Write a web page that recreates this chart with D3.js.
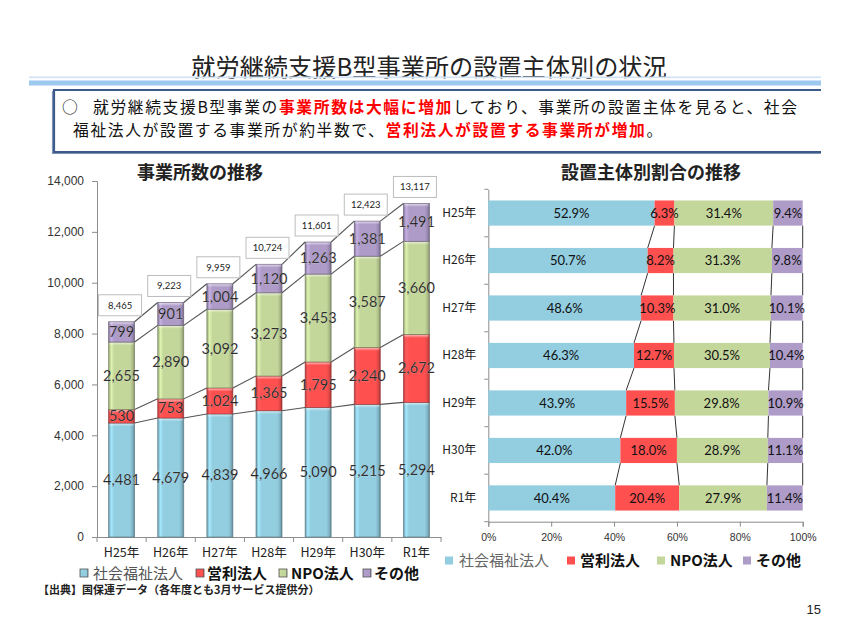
<!DOCTYPE html>
<html><head><meta charset="utf-8">
<script src="https://cdn.jsdelivr.net/npm/d3@7/dist/d3.min.js"></script>
<style>
html,body{margin:0;padding:0;background:#fff;}
svg{display:block;}
</style></head>
<body>
<svg id="c" width="855" height="629"></svg>
<script>
// ---------- DATA ----------
const categories = ["H25年","H26年","H27年","H28年","H29年","H30年","R1年"];
const seriesNames = ["社会福祉法人","営利法人","NPO法人","その他"];
const countSocial = [4481,4679,4839,4966,5090,5215,5294];
const countProfit = [530,753,1024,1365,1795,2240,2672];
const countNpo    = [2655,2890,3092,3273,3453,3587,3660];
const countOther  = [799,901,1004,1120,1263,1381,1491];
const countTotal  = [8465,9223,9959,10724,11601,12423,13117];
const pctSocial = [52.9,50.7,48.6,46.3,43.9,42.0,40.4];
const pctProfit = [6.3,8.2,10.3,12.7,15.5,18.0,20.4];
const pctNpo    = [31.4,31.3,31.0,30.5,29.8,28.9,27.9];
const pctOther  = [9.4,9.8,10.1,10.4,10.9,11.1,11.4];
const countTicks = [0,2000,4000,6000,8000,10000,12000,14000];
const pctTicks = [0,20,40,60,80,100];

// ---------- STYLE ----------
const colors = ["#92cde0","#ff5050","#c4d79b","#ae9bc8"];
const JP = "'Noto Sans CJK JP','Noto Sans',sans-serif";
const NUM = "Lato,'Noto Sans',sans-serif";
const AX = "'Liberation Sans',Arial,sans-serif";

const svg = d3.select("#c");
const defs = svg.append("defs");
colors.forEach((c,i)=>{
  const g = defs.append("linearGradient").attr("id","g"+i).attr("x1","0").attr("x2","1").attr("y1","0").attr("y2","0");
  const base = d3.color(c);
  g.append("stop").attr("offset","0%").attr("stop-color",base.darker(0.9));
  g.append("stop").attr("offset","10%").attr("stop-color",base.brighter(0.35));
  g.append("stop").attr("offset","22%").attr("stop-color",base);
  g.append("stop").attr("offset","82%").attr("stop-color",base);
  g.append("stop").attr("offset","92%").attr("stop-color",base.darker(0.35));
  g.append("stop").attr("offset","100%").attr("stop-color",base.darker(1.2));
  const v = defs.append("linearGradient").attr("id","v"+i).attr("x1","0").attr("x2","0").attr("y1","0").attr("y2","1");
  v.append("stop").attr("offset","0%").attr("stop-color","#fff").attr("stop-opacity",0.55);
  v.append("stop").attr("offset","100%").attr("stop-color","#fff").attr("stop-opacity",0);
});

// ---------- HEADER ----------
svg.append("text").attr("x",429).attr("y",75.5).attr("text-anchor","middle")
  .attr("font-family",JP).attr("font-size",24.2).attr("fill","#222")
  .text("就労継続支援B型事業所の設置主体別の状況");
svg.append("rect").attr("x",29).attr("y",76.5).attr("width",792).attr("height",1.6).attr("fill","#cfe2f6");
svg.append("rect").attr("x",29).attr("y",80.5).attr("width",792).attr("height",5).attr("fill","#9dc8ef");

// box
svg.append("path").attr("d","M821,90 H54 V152 H821").attr("fill","#fff")
  .attr("stroke","#3b5a8a").attr("stroke-width",2.2);
svg.append("path").attr("d","M52.5,91 V153.5 H821").attr("fill","none")
  .attr("stroke","#7f93b5").attr("stroke-width",1.2);

function runs(x0, yb, parts){
  let xx = x0;
  parts.forEach(p=>{
    const t = svg.append("text").attr("x",xx).attr("y",yb).attr("font-family",JP).attr("font-size",15.8)
      .attr("letter-spacing",1.6)
      .attr("fill",p.red?"#ff0000":"#111").attr("font-weight",p.red?"bold":"normal").text(p.t);
    xx += t.node().getComputedTextLength();
  });
}
svg.append("text").attr("x",62).attr("y",113).attr("font-family",JP).attr("font-size",15.8).attr("fill","#111").text("○");
runs(93,113,[{t:"就労継続支援B型事業の"},{t:"事業所数は大幅に増加",red:true},{t:"しており、事業所の設置主体を見ると、社会"}]);
runs(73,136,[{t:"福祉法人が設置する事業所が約半数で、"},{t:"営利法人が設置する事業所が増加",red:true},{t:"。"}]);

// ---------- LEFT CHART ----------
const L = {x0:97, x1:441, y0:181, y1:537};
const x = d3.scaleBand().domain(categories).range([L.x0,L.x1]).padding(0);
const y = d3.scaleLinear().domain([0,14000]).range([L.y1,L.y0]);
const bw = x.bandwidth()*0.53;

svg.append("text").attr("x",200).attr("y",178.5).attr("text-anchor","middle")
  .attr("font-family",JP).attr("font-size",18).attr("font-weight","bold").attr("fill","#222").text("事業所数の推移");

const yAx = svg.append("g").attr("transform",`translate(${L.x0},0)`)
  .call(d3.axisLeft(y).tickValues(countTicks).tickFormat(d3.format(",")).tickSize(5).tickPadding(8));
yAx.selectAll("path,line").attr("stroke","#8c8c8c");
yAx.selectAll("text").attr("font-family",AX).attr("font-size",12).attr("fill","#333");

const xAx = svg.append("g").attr("transform",`translate(0,${L.y1})`)
  .call(d3.axisBottom(x).tickSize(0).tickPadding(11));
xAx.select("path").attr("stroke","#8c8c8c");
xAx.selectAll("text").attr("font-family",JP).attr("font-size",12.5).attr("fill","#222");
svg.append("g").selectAll("line").data(categories.map(c=>x(c)).concat([x.range()[1]]))
  .join("line").attr("x1",d=>d).attr("x2",d=>d).attr("y1",L.y1).attr("y2",L.y1+5).attr("stroke","#8c8c8c");

const countSeries = [countSocial,countProfit,countNpo,countOther];
const countRows = categories.map((c,i)=>({cat:c, s0:countSocial[i], s1:countProfit[i], s2:countNpo[i], s3:countOther[i]}));
const stackC = d3.stack().keys(["s0","s1","s2","s3"])(countRows);

// series lines
const gLines = svg.append("g");
stackC.forEach(layer=>{
  for(let i=0;i<categories.length-1;i++){
    const cx0 = x(categories[i])+x.bandwidth()/2+bw/2;
    const cx1 = x(categories[i+1])+x.bandwidth()/2-bw/2;
    gLines.append("line").attr("x1",cx0).attr("y1",y(layer[i][1])).attr("x2",cx1).attr("y2",y(layer[i+1][1]))
      .attr("stroke","#555").attr("stroke-width",1.1);
  }
});

stackC.forEach((layer,k)=>{
  const g = svg.append("g");
  g.selectAll("rect.b").data(layer).join("rect")
    .attr("x",d=>x(d.data.cat)+x.bandwidth()/2-bw/2).attr("width",bw)
    .attr("y",d=>y(d[1])).attr("height",d=>y(d[0])-y(d[1]))
    .attr("fill",`url(#g${k})`).attr("stroke",d3.color(colors[k]).darker(1.6)).attr("stroke-width",0.8).attr("stroke-opacity",0.7);
  g.selectAll("rect.h").data(layer).join("rect")
    .attr("x",d=>x(d.data.cat)+x.bandwidth()/2-bw/2+1).attr("width",bw-2)
    .attr("y",d=>y(d[1])+0.5).attr("height",3)
    .attr("fill",`url(#v${k})`);
});
stackC.forEach((layer,k)=>{
  svg.append("g").selectAll("text").data(layer).join("text")
    .attr("x",d=>x(d.data.cat)+x.bandwidth()/2).attr("y",d=>(y(d[0])+y(d[1]))/2+5)
    .attr("text-anchor","middle").attr("font-family",NUM).attr("font-size",14.5).attr("fill","#111")
    .attr("stroke","#fff").attr("stroke-width",0.4).attr("stroke-opacity",0.4)
    .text((d,i)=>d3.format(",")(countSeries[k][i]));
});

// total boxes
const gTot = svg.append("g");
categories.forEach((c,i)=>{
  const cx = x(c)+x.bandwidth()/2-1.5;
  const top = y(countTotal[i]);
  gTot.append("rect").attr("x",cx-21.5).attr("y",top-27).attr("width",43).attr("height",21)
    .attr("fill","#fff").attr("stroke","#bdbdbd").attr("stroke-width",1);
  gTot.append("text").attr("x",cx).attr("y",top-13).attr("text-anchor","middle")
    .attr("font-family",NUM).attr("font-size",9.5).attr("fill","#222").text(d3.format(",")(countTotal[i]));
});

// left legend
const legL = [[80,93],[196,207],[279,291],[363,374]];
seriesNames.forEach((n,k)=>{
  svg.append("rect").attr("x",legL[k][0]).attr("y",569).attr("width",8).attr("height",8)
    .attr("fill",`url(#g${k})`).attr("stroke","#555").attr("stroke-width",0.8);
  svg.append("text").attr("x",legL[k][1]).attr("y",578.5).attr("font-family",JP).attr("font-size",15)
    .attr("fill",k===0?"#555":"#111").attr("font-weight",k===0?"normal":"bold").text(n);
});

svg.append("text").attr("x",38).attr("y",593.5).attr("font-family",JP).attr("font-size",11).attr("font-weight","bold")
  .attr("fill","#222").text("【出典】国保連データ（各年度とも3月サービス提供分）");

// ---------- RIGHT CHART ----------
const R = {x0:488.3, x1:802.7, y0:189.3, y1:521.7};
const xp = d3.scaleLinear().domain([0,100]).range([R.x0,R.x1]);
const yp = d3.scaleBand().domain(categories).range([R.y0,R.y1]).padding(0);
const bh = yp.bandwidth()*0.53;

svg.append("text").attr("x",651).attr("y",178.5).attr("text-anchor","middle")
  .attr("font-family",JP).attr("font-size",18).attr("font-weight","bold").attr("fill","#222").text("設置主体別割合の推移");

const pctSeries = [pctSocial,pctProfit,pctNpo,pctOther];
const pctRows = categories.map((c,i)=>{
  const s = pctSocial[i]+pctProfit[i]+pctNpo[i]+pctOther[i];
  return {cat:c, s0:pctSocial[i]*100/s, s1:pctProfit[i]*100/s, s2:pctNpo[i]*100/s, s3:pctOther[i]*100/s};
});
const stackP = d3.stack().keys(["s0","s1","s2","s3"])(pctRows);

const pxAx = svg.append("g").attr("transform",`translate(0,${R.y1})`)
  .call(d3.axisBottom(xp).tickValues(pctTicks).tickFormat(d=>d+"%").tickSize(5).tickPadding(7));
pxAx.selectAll("path,line").attr("stroke","#8c8c8c");
pxAx.selectAll("text").attr("font-family",AX).attr("font-size",10.5).attr("fill","#333");

const pyAx = svg.append("g").attr("transform",`translate(${R.x0},0)`)
  .call(d3.axisLeft(yp).tickSize(0).tickPadding(12));
pyAx.select("path").attr("stroke","#8c8c8c");
pyAx.selectAll("text").attr("font-family",JP).attr("font-size",12).attr("fill","#222");
svg.append("g").selectAll("line").data(categories.map(c=>yp(c)).concat([yp.range()[1]]))
  .join("line").attr("x1",R.x0-4).attr("x2",R.x0).attr("y1",d=>d).attr("y2",d=>d).attr("stroke","#8c8c8c");

const gPL = svg.append("g");
stackP.forEach(layer=>{
  for(let i=0;i<categories.length-1;i++){
    gPL.append("line")
      .attr("x1",xp(layer[i][1])).attr("y1",yp(categories[i])+yp.bandwidth()/2+bh/2)
      .attr("x2",xp(layer[i+1][1])).attr("y2",yp(categories[i+1])+yp.bandwidth()/2-bh/2)
      .attr("stroke","#333").attr("stroke-width",1);
  }
});
stackP.forEach((layer,k)=>{
  svg.append("g").selectAll("rect").data(layer).join("rect")
    .attr("y",d=>yp(d.data.cat)+yp.bandwidth()/2-bh/2).attr("height",bh)
    .attr("x",d=>xp(d[0])).attr("width",d=>xp(d[1])-xp(d[0]))
    .attr("fill",colors[k]);
});
stackP.forEach((layer,k)=>{
  svg.append("g").selectAll("text").data(layer).join("text")
    .attr("x",d=>(xp(d[0])+xp(d[1]))/2).attr("y",d=>yp(d.data.cat)+yp.bandwidth()/2+4.6)
    .attr("text-anchor","middle").attr("font-family",NUM).attr("font-size",13).attr("fill","#111")
    .text((d,i)=>pctSeries[k][i].toFixed(1)+"%");
});

// right legend
const legR = [[445,459],[567,580],[657,670],[743,756]];
seriesNames.forEach((n,k)=>{
  svg.append("rect").attr("x",legR[k][0]).attr("y",556.5).attr("width",8).attr("height",8).attr("fill",colors[k]);
  svg.append("text").attr("x",legR[k][1]).attr("y",566).attr("font-family",JP).attr("font-size",15)
    .attr("fill",k===0?"#666":"#111").attr("font-weight",k===0?"normal":"bold").text(n);
});

svg.append("text").attr("x",821).attr("y",614).attr("text-anchor","end").attr("font-family",AX)
  .attr("font-size",13).attr("fill","#222").text("15");
</script>
</body></html>
